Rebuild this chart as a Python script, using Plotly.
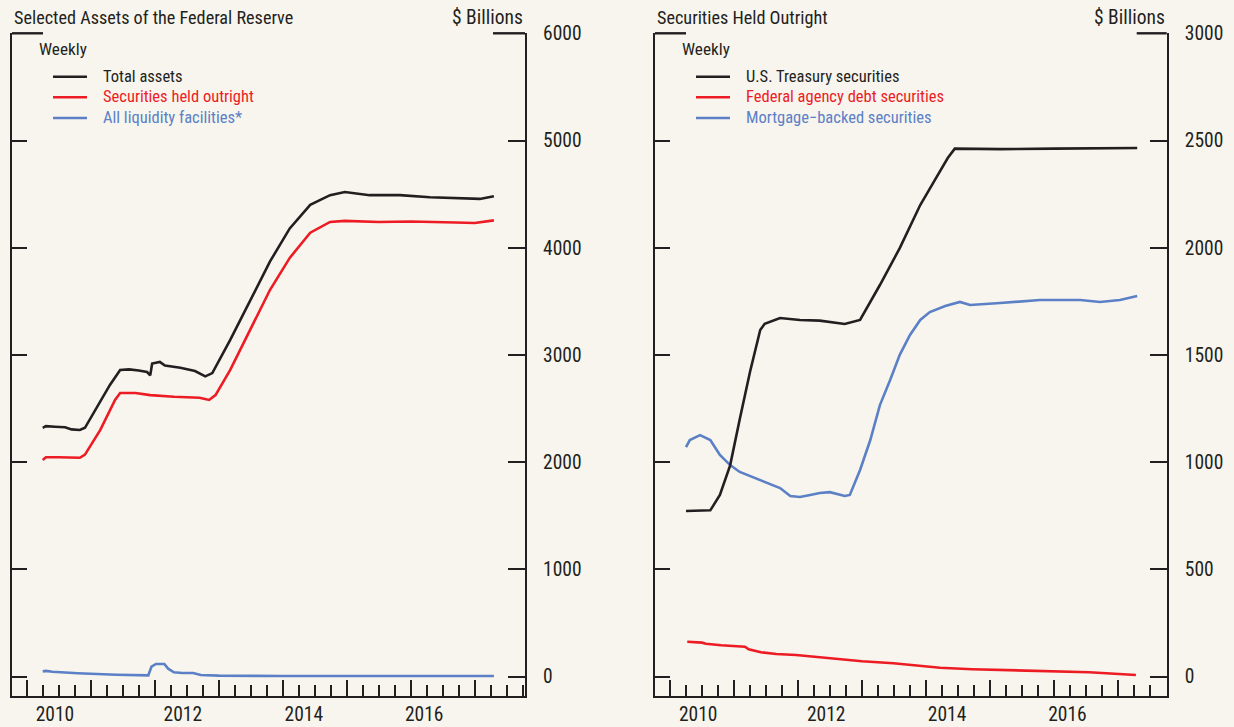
import plotly.graph_objects as go

# ---------------- data (decimal years, $ billions) ----------------
# Left panel: Selected Assets of the Federal Reserve
total_x = [2010.25, 2010.30, 2010.44, 2010.60, 2010.70, 2010.83, 2010.91, 2011.07, 2011.30, 2011.46,
           2011.60, 2011.75, 2011.88, 2011.93, 2011.96, 2012.08, 2012.16, 2012.40, 2012.63, 2012.79,
           2012.90, 2013.18, 2013.49, 2013.80, 2014.11, 2014.43, 2014.74, 2014.97, 2015.36, 2015.83,
           2016.30, 2016.77, 2017.08, 2017.30]
total_y = [2320, 2335, 2330, 2325, 2305, 2300, 2320, 2485, 2720, 2860,
           2865, 2855, 2840, 2810, 2920, 2935, 2900, 2880, 2850, 2800,
           2830, 3140, 3510, 3870, 4180, 4400, 4490, 4520, 4490, 4490,
           4470, 4460, 4455, 4480]

held_x = [2010.25, 2010.30, 2010.50, 2010.70, 2010.83, 2010.91, 2011.15, 2011.38, 2011.46, 2011.70,
          2011.93, 2012.30, 2012.70, 2012.85, 2012.95, 2013.18, 2013.49, 2013.80, 2014.11, 2014.43,
          2014.74, 2014.97, 2015.50, 2016.00, 2016.70, 2017.00, 2017.30]
held_y = [2020, 2045, 2045, 2040, 2040, 2070, 2300, 2580, 2645, 2645,
          2625, 2610, 2600, 2580, 2625, 2860, 3230, 3605, 3905, 4140,
          4240, 4250, 4240, 4245, 4235, 4230, 4255]

liq_x = [2010.25, 2010.30, 2010.40, 2010.80, 2011.40, 2011.90, 2011.95, 2012.02, 2012.15, 2012.21,
         2012.30, 2012.43, 2012.60, 2012.72, 2013.00, 2013.40, 2014.00, 2015.00, 2016.00, 2017.00, 2017.30]
liq_y = [48, 52, 44, 30, 17, 11, 92, 117, 117, 73,
         39, 33, 33, 14, 8, 5, 4, 4, 4, 4, 4]

# Right panel: Securities Held Outright
ust_x = [2010.25, 2010.47, 2010.63, 2010.78, 2010.94, 2011.09, 2011.25, 2011.41, 2011.48, 2011.72,
         2012.03, 2012.34, 2012.60, 2012.73, 2012.97, 2013.28, 2013.59, 2013.91, 2014.14, 2014.34,
         2014.45, 2015.16, 2016.00, 2017.30]
ust_y = [772, 772, 775, 847, 985, 1200, 1420, 1616, 1645, 1672,
         1663, 1660, 1650, 1644, 1663, 1826, 1998, 2199, 2316, 2418,
         2462, 2460, 2462, 2465]

agency_x = [2010.27, 2010.50, 2010.56, 2010.80, 2011.17, 2011.23, 2011.42, 2011.66, 2011.97, 2012.27,
            2012.64, 2013.00, 2013.49, 2013.98, 2014.22, 2014.72, 2015.33, 2015.94, 2016.55, 2017.28]
agency_y = [162, 158, 153, 146, 139, 127, 113, 105, 100, 91,
            83, 71, 62, 50, 41, 34, 30, 27, 20, 7]

mbs_x = [2010.25, 2010.31, 2010.47, 2010.63, 2010.78, 2010.94, 2011.09, 2011.41, 2011.72, 2011.88,
         2012.03, 2012.19, 2012.34, 2012.50, 2012.73, 2012.81, 2012.97, 2013.13, 2013.28, 2013.44,
         2013.59, 2013.75, 2013.91, 2014.06, 2014.30, 2014.53, 2014.69, 2015.16, 2015.78, 2016.41,
         2016.72, 2017.03, 2017.30]
mbs_y = [1070, 1103, 1126, 1103, 1033, 986, 954, 916, 879, 842,
         837, 847, 856, 860, 842, 847, 963, 1103, 1266, 1383,
         1500, 1593, 1663, 1700, 1728, 1747, 1733, 1742, 1756, 1756,
         1747, 1756, 1775]

year_ticks = [2010, 2011, 2012, 2013, 2014, 2015, 2016, 2017]
label_pos = [2010.44, 2012.44, 2014.33, 2016.21]
label_text = ["2010", "2012", "2014", "2016"]
left_yticks = [0, 1000, 2000, 3000, 4000, 5000, 6000]
right_yticks = [0, 500, 1000, 1500, 2000, 2500, 3000]

left_title = "Selected Assets of the Federal Reserve"
right_title = "Securities Held Outright"
left_names = ["Total assets", "Securities held outright", "All liquidity facilities*"]
right_names = ["U.S. Treasury securities", "Federal agency debt securities", "Mortgage\u2212backed securities"]

# ---------------- styling ----------------
W, H = 1234, 727
BG = "#f8f5ee"
INK = "#231f20"
RED = "#ed1c24"
BLUE = "#5b80c6"
FONT = "Liberation Sans Narrow, Arial Narrow, Roboto Condensed, Liberation Sans, sans-serif"
LW = 2.6

def fx(p):
    return p / W

def fy(p):
    return 1 - p / H

Y_DOM = [fy(696), fy(33.3)]
LX_DOM = [fx(12), fx(525)]
RX_DOM = [fx(655), fx(1166.7)]
LX_RANGE = [2009.770, 2017.786]
RX_RANGE = [2009.766, 2017.761]

fig = go.Figure()

def line(x, y, color, xa, ya):
    fig.add_trace(go.Scatter(x=x, y=y, mode="lines", line=dict(color=color, width=LW),
                             xaxis=xa, yaxis=ya, showlegend=False, hoverinfo="skip"))

line(liq_x, liq_y, BLUE, "x", "y")
line(held_x, held_y, RED, "x", "y")
line(total_x, total_y, INK, "x", "y")
line(agency_x, agency_y, RED, "x2", "y2")
line(mbs_x, mbs_y, BLUE, "x2", "y2")
line(ust_x, ust_y, INK, "x2", "y2")

# dummy traces to activate overlay axes
for xa, ya in [("x3", "y"), ("x", "y3"), ("x4", "y2"), ("x2", "y4")]:
    fig.add_trace(go.Scatter(x=[None], y=[None], xaxis=xa, yaxis=ya, showlegend=False))

tickfont = dict(family=FONT, size=19.5, color=INK)

def xmain(dom, rng, anchor):
    return dict(domain=dom, range=rng, anchor=anchor, showgrid=False, zeroline=False,
                automargin=False, showline=True, linecolor=INK, linewidth=2.4,
                tickmode="array", tickvals=year_ticks, ticks="inside", ticklen=16,
                tickwidth=2, tickcolor=INK, showticklabels=False,
                minor=dict(dtick=0.25, tick0=2010, ticks="inside", ticklen=11,
                           tickwidth=1.8, tickcolor=INK, showgrid=False))

def xlabels(dom, rng, anchor, over):
    return dict(domain=dom, range=rng, anchor=anchor, overlaying=over, showgrid=False,
                automargin=False, zeroline=False, showline=False, tickmode="array",
                tickvals=label_pos, ticktext=label_text, ticks="", tickfont=tickfont,
                ticklabelstandoff=4)

def yright(rng, vals, anchor):
    return dict(domain=Y_DOM, range=rng, anchor=anchor, side="right", showgrid=False,
                automargin=False, zeroline=False, showline=True, linecolor=INK, linewidth=2.4,
                tickmode="array", tickvals=vals, ticks="inside", ticklen=17, tickwidth=2,
                tickcolor=INK, tickfont=tickfont, ticklabelstandoff=12)

def yleft(rng, vals, anchor, over):
    return dict(domain=Y_DOM, range=rng, anchor=anchor, overlaying=over, side="left",
                automargin=False, showgrid=False, zeroline=False, showline=True,
                linecolor=INK, linewidth=2.4,
                tickmode="array", tickvals=vals, ticks="inside", ticklen=15, tickwidth=2,
                tickcolor=INK, showticklabels=False)

LY_RANGE = [-181.9, 6000]
RY_RANGE = [-90.95, 3000]

fig.update_layout(
    width=W, height=H, margin=dict(l=0, r=0, t=0, b=0, pad=0, autoexpand=False),
    paper_bgcolor=BG, plot_bgcolor=BG, showlegend=False,
    font=dict(family=FONT, color=INK),
    xaxis=xmain(LX_DOM, LX_RANGE, "y"),
    xaxis2=xmain(RX_DOM, RX_RANGE, "y2"),
    xaxis3=xlabels(LX_DOM, LX_RANGE, "y", "x"),
    xaxis4=xlabels(RX_DOM, RX_RANGE, "y2", "x2"),
    yaxis=yright(LY_RANGE, left_yticks, "x"),
    yaxis2=yright(RY_RANGE, right_yticks, "x2"),
    yaxis3=yleft(LY_RANGE, left_yticks, "x", "y"),
    yaxis4=yleft(RY_RANGE, right_yticks, "x2", "y2"),
)

shapes = []
annos = []

def hseg(x0, x1, y, color, width):
    shapes.append(dict(type="line", xref="paper", yref="paper", x0=fx(x0), x1=fx(x1),
                       y0=fy(y), y1=fy(y), line=dict(color=color, width=width)))

def text(x, y, s, size, color=INK, anchor="left"):
    annos.append(dict(xref="paper", yref="paper", x=fx(x), y=fy(y), text=s, showarrow=False,
                      xanchor=anchor, yanchor="middle",
                      font=dict(family=FONT, size=size, color=color)))

# top corner segments of each frame
hseg(12, 43, 33.3, INK, 2.4)
hseg(493, 525, 33.3, INK, 2.4)
hseg(655, 686, 33.3, INK, 2.4)
hseg(1136.7, 1166.7, 33.3, INK, 2.4)

# titles and units
text(12, 17.5, left_title, 18.2)
text(655, 17.5, right_title, 18.2)
text(525, 17.5, "$ Billions", 19.5, anchor="right")
text(1167, 17.5, "$ Billions", 19.5, anchor="right")
text(37, 49, "Weekly", 17.2)
text(680, 49, "Weekly", 17.2)

# legends
colors = [INK, RED, BLUE]
rows = [76.7, 97.3, 118]
for i in range(3):
    hseg(53, 87, rows[i], colors[i], LW)
    text(101, rows[i] - 0.5, left_names[i], 16.5, colors[i])
    hseg(696, 730, rows[i], colors[i], LW)
    text(744, rows[i] - 0.5, right_names[i], 16.5, colors[i])

fig.update_layout(shapes=shapes, annotations=annos)
fig.write_html(
    "out.html",
    config={"displayModeBar": False},
    post_script="document.documentElement.style.margin='0';document.body.style.margin='0';"
                "document.body.style.padding='0';document.body.style.overflow='hidden';"
                "document.documentElement.style.overflow='hidden';",
)
